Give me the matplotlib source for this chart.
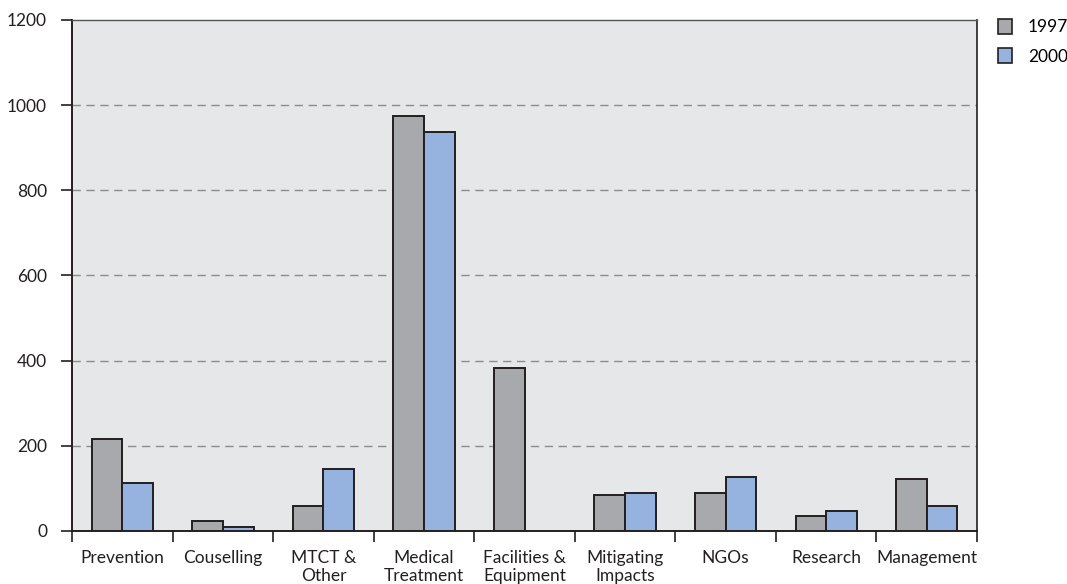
import matplotlib
matplotlib.use("Agg")
import matplotlib.pyplot as plt
import matplotlib.patches as patches
import numpy as np

plt.rcParams['font.family'] = ['Lato', 'DejaVu Sans']

# Data
categories = ["Prevention", "Couselling", "MTCT &\nOther", "Medical\nTreatment",
              "Facilities &\nEquipment", "Mitigating\nImpacts", "NGOs", "Research", "Management"]
vals_1997 = [216, 23, 59, 975, 383, 84, 88, 34, 121]
vals_2000 = [113, 9, 146, 937, 0, 88, 126, 48, 58]
years = ["1997", "2000"]

gray = "#A7A9AC"
blue = "#95B3DE"
edge = "#231F20"

fig = plt.figure(figsize=(10.67, 5.84), dpi=100)
ax = fig.add_axes([0.0675, 0.0908, 0.8482, 0.875])
ax.set_facecolor("#E6E7E8")

x = np.arange(len(categories))
w = 0.305
ax.bar(x - w / 2, vals_1997, w, color=gray, edgecolor=edge, linewidth=1.4, zorder=3)
# skip zero-height bars so no stray outline is drawn
b2 = ax.bar(x + w / 2, vals_2000, w, color=blue, edgecolor=edge, linewidth=1.4, zorder=3)
for rect, v in zip(b2, vals_2000):
    if v == 0:
        rect.set_visible(False)

ax.set_xlim(-0.5, len(categories) - 0.5)
ax.set_ylim(0, 1200)

# y axis
ax.set_yticks(range(0, 1201, 200))
ax.tick_params(axis='y', direction='out', length=8, width=1.2, color=edge,
               labelsize=12.5, pad=10, labelcolor="#231F20")
for yv in range(200, 1001, 200):
    ax.axhline(yv, color="#8C8C8C", linestyle=(0, (6, 4)), linewidth=1.0, zorder=1)

# x axis: labels at centres, tick marks at boundaries
ax.set_xticks(x)
ax.set_xticklabels(categories, fontsize=12.5, color="#231F20", linespacing=1.1)
ax.tick_params(axis='x', which='major', length=0, pad=14)
ax.set_xticks(np.arange(-0.5, len(categories), 1.0), minor=True)
ax.tick_params(axis='x', which='minor', direction='out', length=8, width=1.2, color=edge)

for side in ['left', 'bottom']:
    ax.spines[side].set_color(edge)
    ax.spines[side].set_linewidth(1.4)
ax.spines['right'].set_color(edge)
ax.spines['right'].set_linewidth(1.2)
ax.spines['top'].set_color("#555555")
ax.spines['top'].set_linewidth(1.0)

handles = [patches.Patch(facecolor=gray, edgecolor=edge, linewidth=1.2),
           patches.Patch(facecolor=blue, edgecolor=edge, linewidth=1.2)]
fig.legend(handles, years, loc='upper left', bbox_to_anchor=(0.926, 0.985),
           frameon=False, fontsize=12.5, handlelength=0.8, handleheight=0.9,
           handletextpad=0.9, labelspacing=0.75, borderaxespad=0.2)

fig.savefig("out.png", dpi=100)
